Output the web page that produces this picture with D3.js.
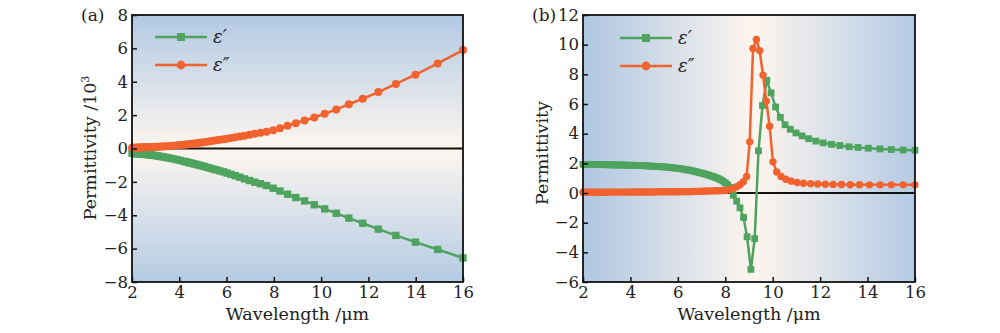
<!DOCTYPE html>
<html>
<head>
<meta charset="utf-8">
<script src="https://d3js.org/d3.v7.min.js"></script>
<style>
  body { margin: 0; background: #fff; }
  text { font-family: "DejaVu Serif", "Liberation Serif", serif; fill: #222; }
</style>
</head>
<body>
<svg id="chart" width="1000" height="333"></svg>
<script>
// ---- panel (a): values in units of 10^3 ----
const aWl = [2.00,2.04,2.08,2.12,2.16,2.20,2.25,2.29,2.34,2.39,2.44,2.50,2.56,2.62,2.68,2.75,2.82,2.89,2.97,3.05,
  3.13,3.23,3.32,3.42,3.53,3.65,3.77,3.91,4.05,4.20,4.28,4.37,4.45,4.55,4.64,4.74,4.84,4.95,5.06,5.18,
  5.31,5.43,5.57,5.71,5.87,6.02,6.19,6.37,6.56,6.76,6.97,7.19,7.43,7.69,7.97,8.26,8.58,8.93,9.30,9.71,
  10.15,10.64,11.17,11.76,12.42,13.16,13.99,14.93,16.00]
const aEps1 = [-0.28,-0.29,-0.29,-0.30,-0.30,-0.31,-0.31,-0.32,-0.32,-0.33,-0.34,-0.35,-0.35,-0.36,-0.37,-0.38,-0.39,-0.40,-0.42,-0.44,
  -0.46,-0.48,-0.50,-0.53,-0.56,-0.59,-0.63,-0.67,-0.72,-0.77,-0.80,-0.83,-0.86,-0.89,-0.93,-0.96,-1.00,-1.04,-1.08,-1.13,
  -1.18,-1.23,-1.28,-1.34,-1.40,-1.47,-1.55,-1.63,-1.72,-1.82,-1.92,-2.02,-2.11,-2.22,-2.38,-2.55,-2.74,-2.94,-3.14,-3.37,
  -3.62,-3.88,-4.17,-4.48,-4.83,-5.21,-5.61,-6.05,-6.56]
const aEps2 = [0.04,0.04,0.05,0.05,0.05,0.05,0.06,0.06,0.06,0.06,0.07,0.07,0.07,0.08,0.08,0.08,0.09,0.09,0.10,0.10,
  0.11,0.12,0.12,0.13,0.14,0.16,0.17,0.19,0.21,0.23,0.24,0.26,0.27,0.29,0.30,0.32,0.34,0.36,0.38,0.41,
  0.43,0.46,0.49,0.52,0.55,0.59,0.63,0.67,0.72,0.77,0.83,0.89,0.95,1.01,1.10,1.22,1.36,1.52,1.68,1.86,
  2.08,2.34,2.65,2.98,3.38,3.87,4.42,5.10,5.90]

// ---- panel (b) ----
const bWl1 = [2.0,2.1,2.2,2.3,2.4,2.5,2.6,2.7,2.8,2.9,3.0,3.1,3.2,3.3,3.4,3.5,3.6,3.7,3.8,3.9,
  4.0,4.1,4.2,4.3,4.4,4.5,4.6,4.7,4.8,4.9,5.0,5.1,5.2,5.3,5.4,5.5,5.6,5.7,5.8,5.9,
  6.0,6.1,6.2,6.3,6.4,6.5,6.6,6.7,6.8,6.9,7.0,7.1,7.2,7.3,7.4,7.5,7.6,7.7,7.8,7.9,8.0,
  8.1,8.2,8.34,8.48,8.62,8.77,8.92,9.08,9.24,9.40,9.57,9.75,9.93,10.12,10.32,10.52,10.74,10.98,
  11.24,11.52,11.82,12.13,12.48,12.83,13.22,13.60,14.03,14.52,15.00,15.50,16.00]
const bEps1 = [1.93,1.93,1.93,1.93,1.92,1.92,1.92,1.92,1.91,1.91,1.91,1.90,1.90,1.90,1.89,1.89,1.89,1.88,1.88,1.87,
  1.87,1.87,1.86,1.86,1.85,1.85,1.84,1.83,1.82,1.81,1.80,1.79,1.78,1.77,1.76,1.75,1.73,1.72,1.70,1.68,
  1.66,1.64,1.62,1.59,1.56,1.53,1.50,1.46,1.42,1.38,1.34,1.30,1.25,1.20,1.15,1.10,1.04,0.97,0.89,0.80,0.69,
  0.55,0.38,-0.15,-0.55,-1.00,-1.65,-2.95,-5.15,-3.08,2.84,5.90,7.60,6.75,5.80,5.10,4.60,4.30,4.05,
  3.85,3.66,3.50,3.38,3.28,3.20,3.12,3.07,3.02,2.97,2.93,2.90,2.88]
const bWl2 = [2.0,2.1,2.2,2.3,2.4,2.5,2.6,2.7,2.8,2.9,3.0,3.1,3.2,3.3,3.4,3.5,3.6,3.7,3.8,3.9,
  4.0,4.1,4.2,4.3,4.4,4.5,4.6,4.7,4.8,4.9,5.0,5.1,5.2,5.3,5.4,5.5,5.6,5.7,5.8,5.9,
  6.0,6.1,6.2,6.3,6.4,6.5,6.6,6.7,6.8,6.9,7.0,7.1,7.2,7.3,7.4,7.5,7.6,7.7,7.8,7.9,8.0,
  8.1,8.2,8.34,8.48,8.62,8.76,8.90,9.03,9.17,9.31,9.45,9.59,9.73,9.87,10.01,10.17,10.35,10.55,10.78,
  11.03,11.30,11.60,11.90,12.22,12.55,12.90,13.27,13.66,14.08,14.53,15.00,15.50,16.00]
const bEps2 = [0.05,0.05,0.05,0.05,0.05,0.05,0.05,0.05,0.05,0.05,0.05,0.06,0.06,0.06,0.06,0.06,0.06,0.06,0.06,0.06,
  0.06,0.07,0.07,0.07,0.07,0.07,0.07,0.07,0.07,0.07,0.07,0.08,0.08,0.08,0.08,0.08,0.08,0.08,0.08,0.08,
  0.08,0.09,0.09,0.09,0.09,0.09,0.10,0.10,0.11,0.11,0.12,0.12,0.13,0.13,0.14,0.14,0.15,0.15,0.16,0.17,0.18,
  0.20,0.23,0.30,0.42,0.56,0.76,1.12,3.45,9.75,10.35,9.60,7.95,6.20,4.50,2.10,1.42,1.12,0.93,0.80,
  0.71,0.66,0.63,0.61,0.59,0.58,0.57,0.56,0.56,0.55,0.55,0.55,0.55,0.55]

const xTicks = [2, 4, 6, 8, 10, 12, 14, 16]
const aYTicks = [-8, -6, -4, -2, 0, 2, 4, 6, 8]
const bYTicks = [-6, -4, -2, 0, 2, 4, 6, 8, 10, 12]

const green = '#4ea35e'
const orange = '#f2622e'
const serif = '"DejaVu Serif", "Liberation Serif", serif'

const svg = d3.select('#chart')
const defs = svg.append('defs')

// background gradients
const gA = defs.append('linearGradient').attr('id', 'bgA')
  .attr('x1', 0).attr('y1', 0).attr('x2', 0).attr('y2', 1)
gA.append('stop').attr('offset', '0%').attr('stop-color', '#b2c9e3')
gA.append('stop').attr('offset', '50%').attr('stop-color', '#fdf6ef')
gA.append('stop').attr('offset', '100%').attr('stop-color', '#b4cbe4')

const gB = defs.append('linearGradient').attr('id', 'bgB')
  .attr('x1', 0).attr('y1', 0).attr('x2', 1).attr('y2', 0)
gB.append('stop').attr('offset', '0%').attr('stop-color', '#afc7e2')
gB.append('stop').attr('offset', '52%').attr('stop-color', '#fdf5ee')
gB.append('stop').attr('offset', '100%').attr('stop-color', '#b3cae4')

function drawPanel(p) {
  const x = d3.scaleLinear().domain([2, 16]).range([p.left, p.right])
  const y = d3.scaleLinear().domain(p.yDomain).range([p.bottom, p.top])
  const g = svg.append('g')

  g.append('rect')
    .attr('x', p.left).attr('y', p.top)
    .attr('width', p.right - p.left).attr('height', p.bottom - p.top)
    .attr('fill', `url(#${p.bg})`)

  // zero line
  g.append('line')
    .attr('x1', p.left).attr('x2', p.right)
    .attr('y1', y(0)).attr('y2', y(0))
    .attr('stroke', '#111').attr('stroke-width', 2)

  const line = d3.line().x(d => x(d[0])).y(d => y(d[1]))

  p.series.forEach(s => {
    const pts = s.wl.map((w, i) => [w, s.v[i]])
    g.append('path').datum(pts)
      .attr('d', line)
      .attr('fill', 'none')
      .attr('stroke', s.color)
      .attr('stroke-width', 2.5)
      .attr('stroke-linejoin', 'round')
    if (s.shape === 'square') {
      g.selectAll(null).data(pts).join('rect')
        .attr('x', d => x(d[0]) - p.ms / 2)
        .attr('y', d => y(d[1]) - p.ms / 2)
        .attr('width', p.ms).attr('height', p.ms)
        .attr('fill', s.color)
    } else {
      g.selectAll(null).data(pts).join('circle')
        .attr('cx', d => x(d[0])).attr('cy', d => y(d[1]))
        .attr('r', p.ms / 2 + 0.3)
        .attr('fill', s.color)
    }
  })

  // axes with inward ticks
  const xAxis = g.append('g').attr('transform', `translate(0,${p.bottom})`)
    .call(d3.axisBottom(x).tickValues(xTicks).tickSize(-5).tickPadding(4))
  const yAxis = g.append('g').attr('transform', `translate(${p.left},0)`)
    .call(d3.axisLeft(y).tickValues(p.yTicks).tickSize(-5).tickPadding(4))
  ;[xAxis, yAxis].forEach(a => {
    a.select('.domain').remove()
    a.selectAll('line').attr('stroke', '#111').attr('stroke-width', 1.5)
    a.selectAll('text').attr('font-size', 16.5).attr('fill', '#222')
      .attr('font-family', serif)
  })

  // frame
  g.append('rect')
    .attr('x', p.left).attr('y', p.top)
    .attr('width', p.right - p.left).attr('height', p.bottom - p.top)
    .attr('fill', 'none').attr('stroke', '#111').attr('stroke-width', 1.8)

  // titles
  g.append('text')
    .attr('x', (p.left + p.right) / 2).attr('y', 320)
    .attr('text-anchor', 'middle').attr('font-size', 17.5)
    .text('Wavelength /μm')
  const yt = g.append('text')
    .attr('transform', `translate(${p.yTitleX},${p.yTitleY}) rotate(-90)`)
    .attr('text-anchor', 'middle').attr('font-size', 17.5)
    .text(p.yTitle)
  if (p.yTitleSup) {
    yt.append('tspan').attr('dy', -7).attr('font-size', 11).text(p.yTitleSup)
  }
  g.append('text')
    .attr('x', p.tagX).attr('y', 21)
    .attr('font-size', 17)
    .text(p.tag)

  // legend
  p.series.forEach((s, i) => {
    const ly = p.legY + i * 28
    g.append('line')
      .attr('x1', p.legX).attr('x2', p.legX + 52)
      .attr('y1', ly).attr('y2', ly)
      .attr('stroke', s.color).attr('stroke-width', 2.5)
    if (s.shape === 'square') {
      g.append('rect')
        .attr('x', p.legX + 26 - 4).attr('y', ly - 4)
        .attr('width', 8).attr('height', 8).attr('fill', s.color)
    } else {
      g.append('circle')
        .attr('cx', p.legX + 26).attr('cy', ly).attr('r', 4.4).attr('fill', s.color)
    }
    g.append('text')
      .attr('x', p.legX + 58).attr('y', ly + 6)
      .attr('font-size', 18).attr('font-style', 'italic')
      .text(s.label)
  })
}

drawPanel({
  left: 132, right: 463, top: 15, bottom: 282,
  yDomain: [-8, 8], yTicks: aYTicks, bg: 'bgA', ms: 7.4,
  yTitle: 'Permittivity /10', yTitleSup: '3', yTitleX: 96, yTitleY: 148,
  tag: '(a)', tagX: 81,
  legX: 155, legY: 37,
  series: [
    { wl: aWl, v: aEps1, color: green, shape: 'square', label: 'ε′' },
    { wl: aWl, v: aEps2, color: orange, shape: 'circle', label: 'ε″' }
  ]
})

drawPanel({
  left: 583, right: 915, top: 15, bottom: 282,
  yDomain: [-6, 12], yTicks: bYTicks, bg: 'bgB', ms: 6.8,
  yTitle: 'Permittivity', yTitleX: 548, yTitleY: 153,
  tag: '(b)', tagX: 532,
  legX: 620, legY: 38,
  series: [
    { wl: bWl1, v: bEps1, color: green, shape: 'square', label: 'ε′' },
    { wl: bWl2, v: bEps2, color: orange, shape: 'circle', label: 'ε″' }
  ]
})
</script>
</body>
</html>
